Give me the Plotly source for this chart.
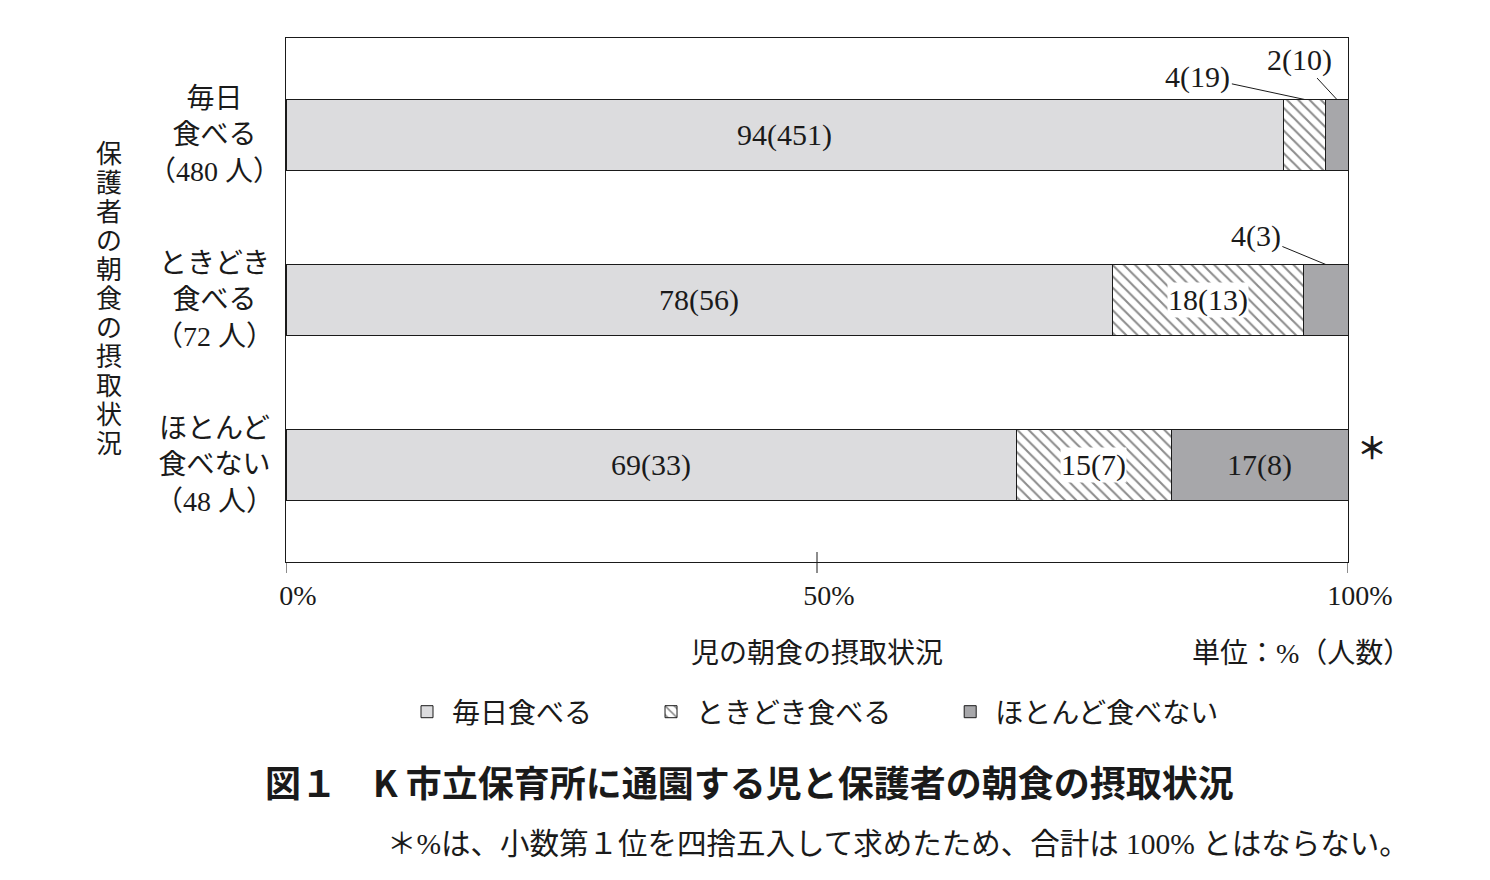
import plotly.graph_objects as go

# ---- data ----
rows = ["毎日食べる", "ときどき食べる", "ほとんど食べない"]
row_labels = ["毎日<br>食べる<br>（480 人）", "ときどき<br>食べる<br>（72 人）", "ほとんど<br>食べない<br>（48 人）"]
series = ["毎日食べる", "ときどき食べる", "ほとんど食べない"]
pct_labels = [[94, 4, 2], [78, 18, 4], [69, 15, 17]]   # rounded %
counts = [[451, 19, 10], [56, 13, 3], [33, 7, 8]]       # persons
totals = [480, 72, 48]

x_title = "児の朝食の摂取状況"
unit_text = "単位：%（人数）"
y_title = "保護者の朝食の摂取状況"
title_text = "図１　K 市立保育所に通園する児と保護者の朝食の摂取状況"
note_text = "＊%は、小数第１位を四捨五入して求めたため、合計は 100% とはならない。"
tick_vals = [0, 50, 100]
tick_text = ["0%", "50%", "100%"]

SERIF = "Liberation Serif, Noto Sans CJK JP"
JP = "Noto Sans CJK JP"
INK = "#1a1a1a"
GAP = "\u00a0" * 7   # extra spacing between legend entries

shares = [[c / t * 100 for c in row] for row, t in zip(counts, totals)]

fills = ["#dcdcde", "#ffffff", "#a7a7aa"]
fig = go.Figure()
for j, name in enumerate(series):
    marker = dict(color=fills[j], line=dict(color=INK, width=1))
    if j == 1:
        marker["pattern"] = dict(shape="\\", fgcolor=INK, bgcolor="#ffffff",
                                 size=8, solidity=0.26)
    fig.add_trace(go.Bar(
        y=rows, x=[s[j] for s in shares], name=name + (GAP if j < len(series) - 1 else ""),
        orientation="h", marker=marker, hoverinfo="skip",
    ))

# page layout (page pixels; page has ~7px body offset)
OFF = 7
PL, PR, PT, PB = 285, 1347, 37, 561
W, H = 1480, 870
L, T = PL - OFF, PT - OFF
R, B = W - (PR - OFF), H - (PB - OFF)
PW, PH = PR - PL, PB - PT

def px_x(p):
    return (p - PL) / PW

def px_y(p):
    return (PB - p) / PH

def note(x, y, text, size, family=SERIF, xanchor="center", **kw):
    return dict(x=px_x(x), y=px_y(y), xref="paper", yref="paper", text=text,
                showarrow=False, xanchor=xanchor, yanchor="middle",
                font=dict(family=family, size=size, color=INK), **kw)

ann = []
# segment labels
leaders = {(0, 1): (-107, -23), (0, 2): (-37, -40), (1, 2): (-70, -29)}
for i, row in enumerate(shares):
    cum = 0
    for j, v in enumerate(row):
        mid = cum + v / 2
        cum += v
        txt = f"{pct_labels[i][j]}({counts[i][j]})"
        if (i, j) in leaders:
            ax, ay = leaders[(i, j)]
            ann.append(dict(x=mid, y=i - 0.215, xref="x", yref="y", text=txt,
                            showarrow=True, arrowhead=0, arrowwidth=1, arrowcolor=INK,
                            ax=ax, ay=ay, font=dict(family=SERIF, size=30, color=INK)))
        else:
            ann.append(dict(x=mid, y=i, xref="x", yref="y", text=txt, showarrow=False,
                            xanchor="center", yanchor="middle",
                            bgcolor="#ffffff" if j == 1 else None, borderpad=0,
                            font=dict(family=SERIF, size=30, color=INK)))
    # row label
    ann.append(dict(x=px_x(213), y=i, xref="paper", yref="y", text=row_labels[i],
                    showarrow=False, xanchor="center", yanchor="middle", align="center",
                    font=dict(family=SERIF, size=28, color=INK)))

# asterisk on last row
ann.append(note(1371, 445, "<b>＊</b>", 30, family=JP))

# vertical y title
n = len(y_title)
for k, ch in enumerate(y_title):
    ann.append(note(108, 298, ch, 26, yshift=-(k - (n - 1) / 2) * 29))

ann.append(note(816, 652, x_title, 28))
ann.append(note(1412, 652, unit_text, 28, xanchor="right"))
ann.append(note(748, 780, "<b>" + title_text + "</b>", 36, family=JP))
ann.append(note(1410, 843, note_text, 29.5, xanchor="right"))

# tick marks (below axis at all ticks, plus inner part at 50%)
shapes = []
for tv in tick_vals:
    shapes.append(dict(type="line", xref="x", yref="paper", x0=tv, x1=tv,
                       y0=-11 / PH, y1=(10 / PH if 0 < tv < 100 else 0),
                       line=dict(color=INK, width=1)))

fig.update_layout(
    width=W, height=H, barmode="stack", bargap=0.57,
    margin=dict(l=L, r=R, t=T, b=B, pad=0),
    paper_bgcolor="white", plot_bgcolor="white",
    annotations=ann, shapes=shapes,
    legend=dict(orientation="h", x=px_x(812), y=px_y(711), xanchor="center", yanchor="middle",
                font=dict(family=SERIF, size=28, color=INK), traceorder="normal",
                itemwidth=40),
    xaxis=dict(range=[0, 100], tickvals=tick_vals, ticktext=tick_text, ticks="",
               showgrid=False, zeroline=False,
               showline=True, linecolor=INK, linewidth=1, mirror=True,
               ticklabelshift=12, ticklabelstandoff=8,
               tickfont=dict(family=SERIF, size=28, color=INK)),
    yaxis=dict(range=[2.588, -0.588], showticklabels=False, ticks="", showgrid=False,
               zeroline=False, showline=True, linecolor=INK, linewidth=1, mirror=True),
)

fig.write_html("out.html")
